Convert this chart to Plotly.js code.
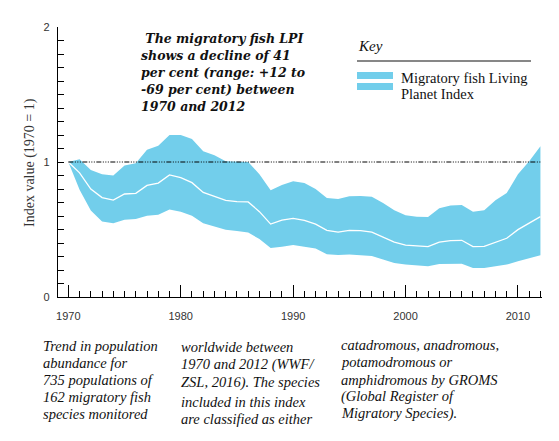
<!DOCTYPE html>
<html>
<head>
<meta charset="utf-8">
<script src="https://cdn.plot.ly/plotly-3.0.1.min.js"></script>
<style>html,body{margin:0;padding:0;background:#fff}#chart{width:559px;height:441px}</style>
</head>
<body>
<div id="chart"></div>
<script>
// Migratory fish LPI, 1970 = 1
const years = [1970,1971,1972,1973,1974,1975,1976,1977,1978,1979,1980,1981,1982,1983,1984,1985,1986,1987,1988,1989,
  1990,1991,1992,1993,1994,1995,1996,1997,1998,1999,2000,2001,2002,2003,2004,2005,2006,2007,2008,2009,2010,2011,2012];
const lpiIndex = [1.0,0.92,0.80,0.736,0.718,0.763,0.768,0.827,0.844,0.904,0.884,0.847,0.775,0.748,0.716,0.706,0.704,0.632,0.54,0.57,
  0.583,0.568,0.54,0.494,0.481,0.494,0.491,0.481,0.442,0.407,0.385,0.378,0.373,0.407,0.417,0.42,0.373,0.375,0.407,0.435,0.499,0.548,0.595];
const lpiUpper = [1.0,1.02,0.94,0.91,0.90,0.975,0.99,1.09,1.12,1.20,1.20,1.17,1.08,1.05,1.005,1.0,1.0,0.91,0.79,0.83,
  0.857,0.845,0.80,0.733,0.726,0.746,0.748,0.743,0.696,0.642,0.605,0.595,0.593,0.657,0.677,0.681,0.632,0.642,0.716,0.77,0.909,1.005,1.116];
const lpiLower = [1.0,0.795,0.64,0.56,0.546,0.573,0.578,0.602,0.61,0.649,0.632,0.602,0.546,0.523,0.499,0.489,0.477,0.43,0.363,0.373,
  0.385,0.373,0.36,0.316,0.311,0.314,0.311,0.304,0.277,0.252,0.24,0.232,0.227,0.244,0.247,0.247,0.215,0.215,0.227,0.24,0.264,0.286,0.309];
const baseline = 1;
const yTicks = [0, 1, 2];

const titleLines = [' The migratory fish LPI', 'shows a decline of 41', 'per cent (range: +12 to', '-69 per cent) between', '1970 and 2012'];
const keyLabel = 'Key';
const seriesLabel = ['Migratory fish Living', 'Planet Index'];
const yTitle = 'Index value (1970 = 1)';
const noteCols = [
  ['Trend in population', 'abundance for', '735 populations of', '162 migratory fish', 'species monitored'],
  ['worldwide between', '1970 and 2012 (WWF/', 'ZSL, 2016). The species', 'included in this index', 'are classified as either'],
  ['catadromous, anadromous,', 'potamodromous or', 'amphidromous by GROMS', '(Global Register of', 'Migratory Species).']
];

const BLUE = '#72CEEB';
const W = 559, H = 441, L = 58, R = 542, T = 27, B = 297;
const px = v => (v - L) / (R - L);
const py = v => (B - v) / (B - T);
const serif = 'Liberation Serif, serif';
const dvs = 'DejaVu Serif, serif';

const traces = [
  { x: years, y: lpiLower, type: 'scatter', mode: 'lines', line: { width: 0, color: BLUE }, hoverinfo: 'skip' },
  { x: years, y: lpiUpper, type: 'scatter', mode: 'lines', line: { width: 0, color: BLUE }, fill: 'tonexty', fillcolor: BLUE },
  { x: years, y: lpiIndex, type: 'scatter', mode: 'lines', line: { width: 1.3, color: '#ffffff' } },
  { x: [years[0], years[years.length - 1]], y: [baseline, baseline], type: 'scatter', mode: 'lines',
    line: { width: 1, color: '#000', dash: '5px,1.5px,1px,1.5px,1px,1.5px,1px,1.5px' } }
];

const annotations = [];
titleLines.forEach((t, i) => annotations.push({
  xref: 'paper', yref: 'paper', x: px(139), y: py(38 + i * 17), xanchor: 'left', yanchor: 'middle',
  text: '<b><i>' + t + '</i></b>', showarrow: false, font: { family: dvs, size: 12.5, color: '#111' }
}));
annotations.push({ xref: 'paper', yref: 'paper', x: px(356), y: py(46), xanchor: 'left', yanchor: 'middle',
  text: '<i>' + keyLabel + '</i>', showarrow: false, font: { family: serif, size: 15, color: '#111' } });
seriesLabel.forEach((t, i) => annotations.push({
  xref: 'paper', yref: 'paper', x: px(399), y: py(78 + i * 16), xanchor: 'left', yanchor: 'middle',
  text: t, showarrow: false, font: { family: serif, size: 14.5, color: '#111' }
}));
annotations.push({ xref: 'paper', yref: 'paper', x: px(30), y: py(163), xanchor: 'center', yanchor: 'middle',
  text: yTitle, textangle: -90, showarrow: false, font: { family: serif, size: 14, color: '#333' } });
const colX = [41, 179, 339];
const colY = [[346, 363, 380, 397, 414], [347, 364, 382, 402, 419], [345, 362, 380, 397, 413]];
noteCols.forEach((col, c) => col.forEach((t, i) => annotations.push({
  xref: 'paper', yref: 'paper', x: px(colX[c]), y: py(colY[c][i]), xanchor: 'left', yanchor: 'middle',
  text: '<i>' + t + '</i>', showarrow: false, font: { family: serif, size: 14.5, color: '#111' }
})));

const shapes = [
  { type: 'line', xref: 'paper', yref: 'paper', x0: px(357), x1: px(531), y0: py(61), y1: py(61), line: { color: '#111', width: 1.2 } },
  { type: 'rect', xref: 'paper', yref: 'paper', x0: px(357), x1: px(393), y0: py(72), y1: py(79), fillcolor: BLUE, line: { width: 0 } },
  { type: 'rect', xref: 'paper', yref: 'paper', x0: px(357), x1: px(393), y0: py(83), y1: py(90), fillcolor: BLUE, line: { width: 0 } }
];

const tickFont = { family: 'Liberation Sans Narrow, Arial Narrow, Liberation Sans, sans-serif', size: 11, color: '#333' };
const layout = {
  width: W, height: H,
  margin: { l: L, r: W - R, t: T, b: H - B, pad: 0 },
  paper_bgcolor: '#fff', plot_bgcolor: '#fff',
  showlegend: false,
  xaxis: {
    range: [1969.08, 2012.14], showgrid: false, zeroline: false,
    showline: true, linecolor: '#000', linewidth: 1.2,
    tickmode: 'linear', tick0: 1970, dtick: 10, ticks: 'inside', ticklen: 12, tickcolor: '#000', tickwidth: 1,
    minor: { tick0: 1970, dtick: 1, ticks: 'inside', ticklen: 6, tickcolor: '#000', tickwidth: 1 },
    tickfont: tickFont, ticklabelstandoff: 9
  },
  yaxis: {
    range: [0, 2], showgrid: false, zeroline: false,
    showline: true, linecolor: '#000', linewidth: 1.2,
    tickmode: 'array', tickvals: yTicks, ticks: 'inside', ticklen: 6, tickcolor: '#000', tickwidth: 1,
    minor: { dtick: 0.1, ticks: 'inside', ticklen: 6, tickcolor: '#000', tickwidth: 1 },
    tickfont: { family: 'Liberation Sans, sans-serif', size: 11, color: '#333' }, ticklabelstandoff: 5
  },
  annotations, shapes
};

Plotly.newPlot('chart', traces, layout, { displayModeBar: false, staticPlot: true });
</script>
</body>
</html>
